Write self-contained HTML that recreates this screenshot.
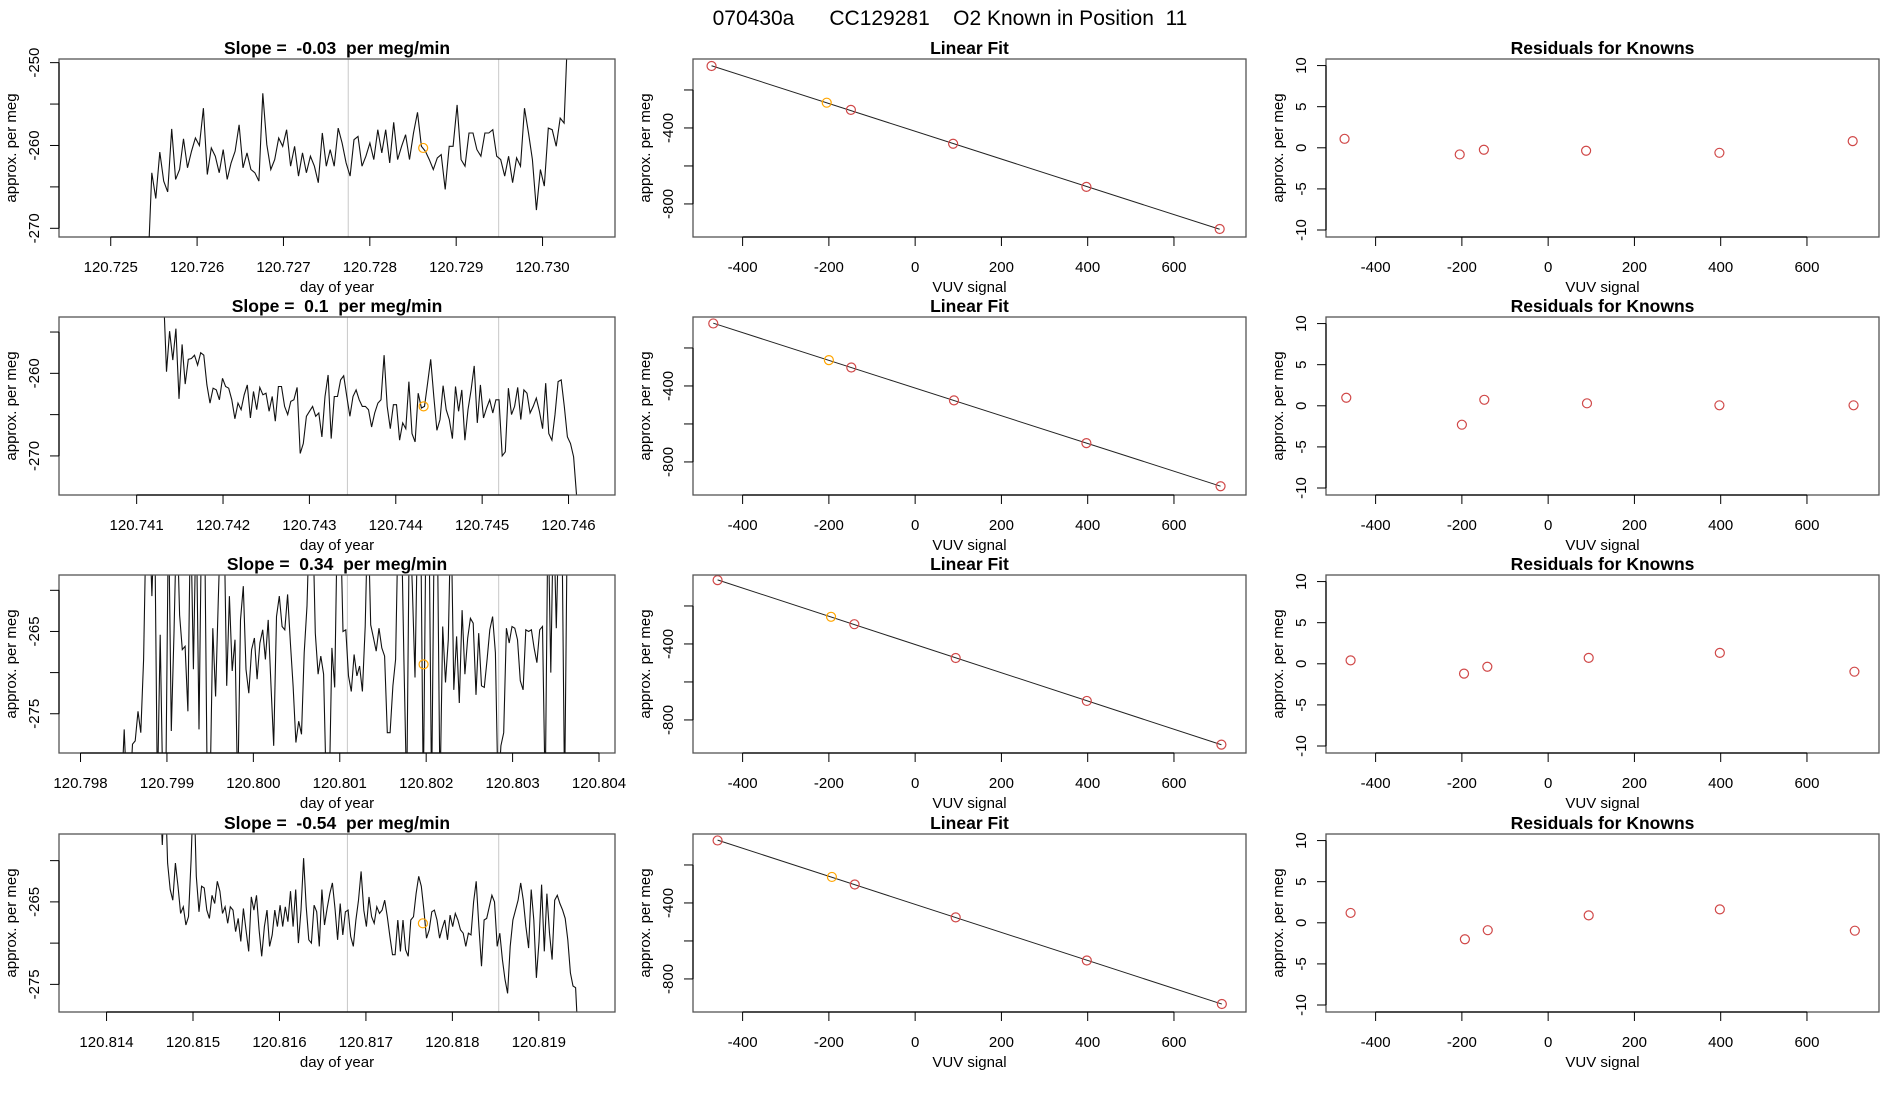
<!DOCTYPE html>
<html><head><meta charset="utf-8"><title>070430a CC129281 O2 Known in Position 11</title>
<style>
html,body{margin:0;padding:0;background:#fff;}
svg{display:block;font-family:"Liberation Sans",sans-serif;}
text{white-space:pre;}
</style></head>
<body>
<svg id="chart" width="1900" height="1100" viewBox="0 0 1900 1100" xmlns="http://www.w3.org/2000/svg">
<text x="950" y="25" text-anchor="middle" font-size="21" style="white-space:pre">070430a      CC129281    O2 Known in Position  11</text>
</svg>
<script>
// ---------- time-series data ----------
const slopeLabels = ["-0.03", "0.1", "0.34", "-0.54"];
const tsStart = [120.725430, 120.741310, 120.798473, 120.814615];
const tsEnd   = [120.730296, 120.746095, 120.803634, 120.819456];
const tsXmin = [120.724401, 120.740101, 120.797751, 120.813450];
const tsXmax = [120.730839, 120.746538, 120.804185, 120.819881];
const tsYmin = [-271.05, -274.73, -279.77, -278.35];
const tsYmax = [-249.56, -253.18, -258.14, -256.77];
const tsXticks = [
  [120.725,120.726,120.727,120.728,120.729,120.730],
  [120.741,120.742,120.743,120.744,120.745,120.746],
  [120.798,120.799,120.800,120.801,120.802,120.803,120.804],
  [120.814,120.815,120.816,120.817,120.818,120.819]
];
const tsXtickDigits = [3,3,3,3];
const tsYticks = [[-250,-255,-260,-265,-270],[-255,-260,-265,-270],[-260,-265,-270,-275],[-260,-265,-270,-275]];
const tsYlabels = [[-250,-260,-270],[-260,-270],[-265,-275],[-265,-275]];
const tsVlines = [[120.727750,120.729492],[120.743440,120.745191],[120.801088,120.802839],[120.816786,120.818536]];
const tsMarkT = [120.728618, 120.744322, 120.801970, 120.817659];
const tsMarkV = [-260.3, -264.0, -269.0, -267.6];

const row1Values = [-275,-263.3,-266.4,-260.8,-264.3,-265.6,-258.0,-264.1,-262.9,-259.2,-262.7,-260.7,-259.1,-260.0,-255.5,-263.5,-260.3,-261.3,-263.3,-260.5,-264.1,-262.1,-260.7,-257.5,-262.7,-260.9,-262.9,-263.3,-264.3,-253.7,-259.9,-262.9,-261.7,-259.1,-260.1,-258.1,-262.5,-260.1,-263.7,-260.9,-263.3,-261.3,-262.5,-264.5,-258.5,-262.5,-260.5,-262.5,-257.9,-259.7,-262.1,-263.7,-259.3,-258.9,-262.5,-261.3,-259.7,-261.7,-258.1,-260.9,-258.1,-262.1,-257.2,-261.7,-260.1,-258.7,-261.7,-258.5,-256.0,-260.1,-260.7,-261.7,-262.9,-261.5,-261.1,-265.3,-260.1,-260.1,-255.1,-261.7,-262.5,-258.5,-258.5,-260.5,-261.3,-258.5,-258.5,-258.1,-261.3,-261.7,-263.7,-261.3,-264.5,-261.5,-262.5,-255.5,-258.5,-261.7,-267.8,-262.9,-264.9,-257.9,-258.1,-260.1,-256.7,-257.3,-245];
const row2Values = [-250,-259.8,-254.9,-258.4,-254.6,-263.1,-256.5,-261.3,-258.3,-258.2,-257.8,-259.0,-257.5,-257.8,-261.4,-263.6,-261.8,-262.0,-263.2,-260.6,-261.6,-261.8,-263.2,-265.5,-263.6,-264.4,-262.6,-261.4,-265.4,-262.2,-264.4,-261.7,-262.6,-262.4,-264.6,-262.8,-265.8,-261.6,-261.6,-264.0,-265.0,-263.4,-263.2,-261.7,-269.7,-268.5,-265.2,-264.6,-264.0,-265.2,-264.8,-267.7,-262.8,-260.2,-267.9,-262.8,-262.8,-260.8,-260.3,-262.8,-265.2,-262.8,-262.0,-263.2,-264.0,-264.0,-264.4,-266.5,-264.8,-263.6,-263.2,-257.8,-264.0,-266.7,-263.8,-263.8,-268.1,-266.0,-266.7,-261.0,-267.3,-268.3,-262.4,-264.2,-264.0,-261.2,-258.3,-262.8,-266.9,-265.6,-261.5,-264.4,-265.6,-267.9,-261.6,-264.6,-262.0,-268.1,-264.4,-262.0,-259.1,-266.0,-261.4,-265.4,-264.2,-263.2,-264.8,-263.2,-263.2,-270.0,-269.5,-261.8,-265.0,-264.0,-261.7,-265.6,-262.0,-262.4,-264.8,-264.0,-263.0,-264.6,-266.7,-261.2,-267.3,-268.1,-265.0,-261.0,-260.8,-264.0,-267.7,-268.5,-270.1,-275];
const row3Values = [-285,-276.9,-285,-285,-278.7,-278.3,-274.7,-277.3,-268.4,-250,-250,-260.7,-250,-285,-265.4,-285,-285,-250,-277.1,-265.2,-250,-263.0,-267.2,-266.8,-274.7,-250,-269.6,-250,-276.9,-250,-250,-285,-285,-264.6,-272.9,-261.1,-250,-250,-271.6,-260.7,-269.8,-266.0,-285,-263.6,-259.5,-269.6,-272.5,-267.2,-265.8,-270.8,-266.4,-264.8,-268.4,-263.6,-271.6,-278.9,-263.2,-260.7,-264.4,-264.8,-260.5,-266.4,-271.6,-278.5,-275.9,-277.5,-267.6,-261.9,-250,-250,-265.2,-270.2,-268.0,-270.2,-285,-285,-267.0,-271.8,-250,-250,-265.0,-264.8,-270.4,-272.3,-267.8,-270.4,-269.2,-272.3,-264.4,-250,-264.2,-265.8,-267.4,-264.6,-267.0,-268.0,-277.3,-277.3,-271.6,-268.4,-250,-250,-268.4,-285,-250,-259.5,-270.6,-250,-250,-285,-250,-250,-285,-250,-250,-285,-264.4,-271.2,-266.0,-250,-272.1,-265.6,-273.7,-262.4,-270.2,-265.8,-263.4,-264.0,-272.7,-265.2,-271.6,-271.8,-268.4,-264.8,-263.2,-267.6,-285,-278.9,-277.3,-264.6,-266.4,-264.4,-264.6,-266.0,-271.0,-272.1,-264.8,-265.0,-264.8,-267.0,-268.8,-264.8,-264.4,-285,-250,-270.0,-250,-264.6,-250,-250,-285,-250];
const row4Values = [-250,-258.1,-250,-260.3,-263.5,-264.8,-260.3,-263.1,-266.4,-265.6,-267.8,-266.8,-259.9,-250,-261.9,-266.2,-263.1,-263.3,-266.0,-267.0,-264.2,-265.2,-262.5,-263.7,-266.4,-265.6,-267.6,-265.6,-266.0,-268.6,-267.0,-269.8,-265.8,-268.4,-271.0,-264.4,-266.0,-264.2,-268.4,-271.6,-268.0,-266.0,-270.4,-269.0,-266.0,-268.0,-265.4,-268.0,-265.6,-267.4,-263.7,-268.0,-263.5,-270.0,-266.0,-259.7,-265.6,-269.6,-270.0,-265.4,-266.2,-270.4,-263.5,-267.8,-265.8,-264.0,-262.7,-265.8,-269.6,-265.2,-269.0,-266.2,-266.0,-269.2,-270.4,-267.2,-264.8,-261.3,-266.0,-268.0,-264.4,-266.8,-267.6,-265.6,-266.4,-266.0,-264.8,-266.8,-269.2,-271.4,-271.4,-267.2,-271.0,-267.2,-270.8,-271.6,-267.2,-266.8,-264.0,-261.9,-263.1,-266.0,-269.4,-268.4,-266.2,-266.0,-267.2,-269.4,-268.2,-267.2,-269.6,-266.6,-268.0,-266.4,-267.2,-268.4,-268.8,-270.4,-268.8,-269.0,-265.0,-262.5,-268.0,-272.8,-267.2,-267.0,-265.6,-264.2,-265.0,-270.4,-268.8,-272.0,-274.4,-276.1,-270.4,-267.2,-266.0,-264.8,-262.7,-264.8,-268.0,-270.6,-263.5,-267.2,-274.2,-269.8,-262.9,-271.0,-264.0,-268.8,-272.0,-264.8,-264.2,-265.2,-266.0,-267.0,-269.6,-273.6,-275.2,-275.4,-282];
const tsValues = [row1Values, row2Values, row3Values, row4Values];

// ---------- linear-fit & residual data ----------
const vuvSignal = [
  [-472,-205,-149,88,397,706],
  [-468,-200,-148,90,397,708],
  [-458,-195,-141,94,398,710],
  [-458,-193,-140,94,398,711]
];
const perMegValue = [
  [-74,-267,-305,-483,-710,-932],
  [-71,-264,-303,-476,-701,-928],
  [-64,-257,-296,-474,-700,-930],
  [-71,-263,-303,-476,-703,-932]
];
const residualValue = [
  [1.09,-0.81,-0.24,-0.36,-0.61,0.81],
  [0.98,-2.3,0.73,0.3,0.06,0.06],
  [0.42,-1.2,-0.36,0.72,1.33,-0.96],
  [1.2,-2.0,-0.9,0.9,1.63,-0.96]
];
const highlightIndex = 1;
const vuvTicks = [-400,-200,0,200,400,600];
const fitYticks = [-200,-400,-600,-800];
const fitYlabels = [-400,-800];
const residTicks = [10,5,0,-5,-10];

// ---------- layout ----------
const NS = "http://www.w3.org/2000/svg";
const svg = document.getElementById("chart");
const colL = [59, 693, 1326], colR = [615, 1246, 1879];
const rowTop = [59, 317, 575, 834], boxH = 178;
const vuvMin = -515, vuvMax = 767;
const fitMin = -974, fitMax = -37;
const resMin = -10.85, resMax = 10.8;

function mk(tag, attrs, parent) {
  const el = document.createElementNS(NS, tag);
  for (const k in attrs) el.setAttribute(k, attrs[k]);
  (parent || svg).appendChild(el);
  return el;
}
function scale(d0, d1, r0, r1) { return v => r0 + (v - d0) / (d1 - d0) * (r1 - r0); }

function frame(c, r, g, xs, ys, xticks, xlabels, yticks, ylabels, title, xtitle, xdigits) {
  const L = colL[c], R = colR[c], T = rowTop[r], B = T + boxH;
  const box = mk("rect", {x: L, y: T, width: R - L, height: boxH, fill: "none", stroke: "#555", "stroke-width": 1.3}, g);
  
  
  const xa = mk("line", {x1: xs(xticks[0]), x2: xs(xticks[xticks.length-1]), y1: B, y2: B, stroke: "#000", "stroke-width": 1.2}, g);
  
  
  xticks.forEach((v, i) => {
    const t = mk("line", {x1: xs(v), x2: xs(v), y1: B, y2: B + 9, stroke: "#000", "stroke-width": 1}, g);
    
    
    const lb = mk("text", {x: xs(v), y: B + 35, "text-anchor": "middle", "font-size": 15}, g);
    lb.textContent = xdigits ? v.toFixed(xdigits) : String(v);
    
    
  });
  const ya = mk("line", {x1: L, x2: L, y1: ys(yticks[0]), y2: ys(yticks[yticks.length-1]), stroke: "#000", "stroke-width": 1.2}, g);
  
  
  yticks.forEach(v => {
    const t = mk("line", {x1: L - 9, x2: L, y1: ys(v), y2: ys(v), stroke: "#000", "stroke-width": 1}, g);
    
    
  });
  ylabels.forEach(v => {
    const yy = ys(v), xx = L - 20;
    const lb = mk("text", {x: xx, y: yy, "text-anchor": "middle", "font-size": 15, transform: `rotate(-90 ${xx} ${yy})`}, g);
    lb.textContent = String(v);
    
    
  });
  const yt = mk("text", {x: L - 43, y: (T + B) / 2, "text-anchor": "middle", "font-size": 15, transform: `rotate(-90 ${L - 43} ${(T + B) / 2})`}, g);
  yt.textContent = "approx. per meg";
  
  
  const xt = mk("text", {x: (L + R) / 2, y: B + 55, "text-anchor": "middle", "font-size": 15}, g);
  xt.textContent = xtitle;
  
  
  const tt = mk("text", {x: (L + R) / 2, y: T - 5, "text-anchor": "middle", "font-size": 17.5, "font-weight": "bold", style: "white-space:pre"}, g);
  tt.textContent = title;
  
  
}

const defs = mk("defs", {});
for (let r = 0; r < 4; r++) {
  const T = rowTop[r], B = T + boxH;
  // ---- time series panel ----
  const cp = mk("clipPath", {id: "clip" + r}, defs);
  mk("rect", {x: colL[0], y: T, width: colR[0] - colL[0], height: boxH}, cp);
  const g1 = mk("g", {});
  
  
  const xs = scale(tsXmin[r], tsXmax[r], colL[0], colR[0]);
  const ys = scale(tsYmin[r], tsYmax[r], B, T);
  tsVlines[r].forEach(v => {
    const vl = mk("line", {x1: xs(v), x2: xs(v), y1: T, y2: B, stroke: "#c8c8c8", "stroke-width": 1}, g1);
    
    
  });
  const vals = tsValues[r];
  const n = vals.length;
  const dt = (tsEnd[r] - tsStart[r]) / (n - 1);
  const pts = vals.map((v, i) => xs(tsStart[r] + i * dt).toFixed(1) + "," + ys(v).toFixed(1)).join(" ");
  const pl = mk("polyline", {points: pts, fill: "none", stroke: "#111", "stroke-width": 1.1, "clip-path": `url(#clip${r})`}, g1);
  
  
  const mc = mk("circle", {cx: xs(tsMarkT[r]), cy: ys(tsMarkV[r]), r: 4.5, fill: "none", stroke: "#FFA500", "stroke-width": 1.2}, g1);
  
  
  frame(0, r, g1, xs, ys, tsXticks[r], null, tsYticks[r], tsYlabels[r], "Slope =  " + slopeLabels[r] + "  per meg/min", "day of year", tsXtickDigits[r]);

  // ---- linear fit panel ----
  const g2 = mk("g", {});
  
  
  const xs2 = scale(vuvMin, vuvMax, colL[1], colR[1]);
  const ys2 = scale(fitMin, fitMax, B, T);
  const xv = vuvSignal[r], yv = perMegValue[r];
  const k = xv.length;
  let sx = 0, sy = 0, sxx = 0, sxy = 0;
  for (let i = 0; i < k; i++) { sx += xv[i]; sy += yv[i]; sxx += xv[i] * xv[i]; sxy += xv[i] * yv[i]; }
  const b = (k * sxy - sx * sy) / (k * sxx - sx * sx), a = (sy - b * sx) / k;
  const x0 = Math.min(...xv), x1 = Math.max(...xv);
  const fl = mk("line", {x1: xs2(x0), y1: ys2(a + b * x0), x2: xs2(x1), y2: ys2(a + b * x1), stroke: "#222", "stroke-width": 1}, g2);
  
  
  xv.forEach((v, i) => {
    const c = mk("circle", {cx: xs2(v), cy: ys2(yv[i]), r: 4.5, fill: "none", stroke: i === highlightIndex ? "#FFA500" : "#D04848", "stroke-width": 1.2}, g2);
    
    
  });
  frame(1, r, g2, xs2, ys2, vuvTicks, null, fitYticks, fitYlabels, "Linear Fit", "VUV signal", 0);

  // ---- residuals panel ----
  const g3 = mk("g", {});
  
  
  const xs3 = scale(vuvMin, vuvMax, colL[2], colR[2]);
  const ys3 = scale(resMin, resMax, B, T);
  xv.forEach((v, i) => {
    const c = mk("circle", {cx: xs3(v), cy: ys3(residualValue[r][i]), r: 4.5, fill: "none", stroke: "#D04848", "stroke-width": 1.2}, g3);
    
    
  });
  frame(2, r, g3, xs3, ys3, vuvTicks, null, residTicks, residTicks, "Residuals for Knowns", "VUV signal", 0);
}
</script>
</body></html>
